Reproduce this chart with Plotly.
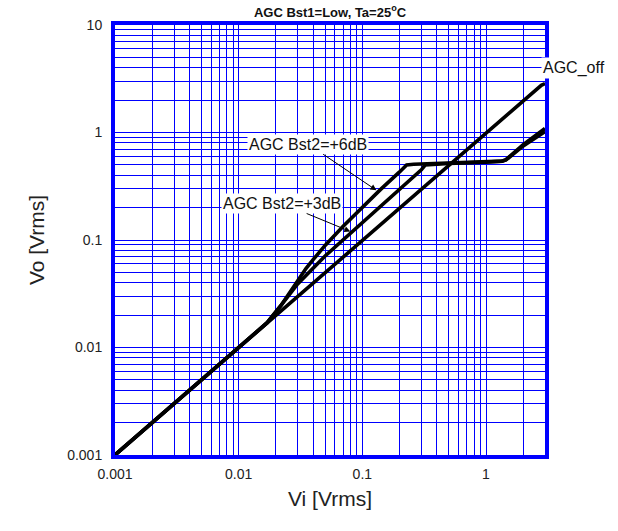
import math
import plotly.graph_objects as go

# ---- data ----
vi_off = [0.001, 2.3, 2.6, 2.8, 3.0]
vo_off = [0.001, 2.3, 2.58, 2.75, 2.85]

vi_6db = [0.001, 0.017, 0.022, 0.028, 0.035, 0.04, 0.05, 0.07, 0.1, 0.14, 0.2, 0.228,
          0.26, 0.5, 1.0, 1.35, 1.45, 1.6, 2.0, 3.0]
vo_6db = [0.001, 0.017, 0.0246, 0.0372, 0.0543, 0.0656, 0.089, 0.134, 0.202, 0.294, 0.43, 0.5,
          0.507, 0.518, 0.532, 0.542, 0.56, 0.62, 0.77, 1.09]

vi_3db = [0.001, 0.017, 0.022, 0.03, 0.05, 0.1, 0.2, 0.3, 0.322,
          0.36, 0.5, 1.0, 1.35, 1.45, 1.6, 2.0, 3.0]
vo_3db = [0.001, 0.017, 0.0246, 0.039, 0.071, 0.145, 0.294, 0.45, 0.498,
          0.504, 0.515, 0.53, 0.54, 0.555, 0.61, 0.75, 1.02]

x_decades = [0.001, 0.01, 0.1, 1]
x_decade_labels = ["0.001", "0.01", "0.1", "1"]
y_decades = [0.001, 0.01, 0.1, 1, 10]
y_decade_labels = ["0.001", "0.01", "0.1", "1", "10"]
x_min, x_max = 0.001, 3.0
y_min, y_max = 0.001, 10.0

# annotation anchor points (data coords, Vi / Vo)
ann_6db_tip = (0.13, 0.29)
ann_3db_tip = (0.08, 0.12)

title_text = "AGC Bst1=Low, Ta=25<sup>o</sup>C"
x_title = "Vi [Vrms]"
y_title = "Vo [Vrms]"


def grid_vals(decades, vmax):
    vals = []
    for d in decades:
        for k in range(1, 10):
            v = round(d * k, 6)
            if v <= vmax + 1e-9:
                vals.append(v)
    return vals


x_grid = grid_vals(x_decades, x_max)
y_grid = grid_vals(y_decades[:-1], y_max) + [y_max]
x_text = [x_decade_labels[x_decades.index(v)] if v in x_decades else "" for v in x_grid]
y_text = [y_decade_labels[y_decades.index(v)] if v in y_decades else "" for v in y_grid]

FONT = "Arial, 'Liberation Sans', sans-serif"
BLUE = "#0000FF"

fig = go.Figure()
line_style = dict(color="black", width=3.6)
fig.add_trace(go.Scatter(x=vi_off, y=vo_off, mode="lines", line=line_style, name="AGC_off"))
fig.add_trace(go.Scatter(x=vi_6db, y=vo_6db, mode="lines", line=line_style, name="AGC Bst2=+6dB"))
fig.add_trace(go.Scatter(x=vi_3db, y=vo_3db, mode="lines", line=line_style, name="AGC Bst2=+3dB"))

axis_common = dict(
    type="log",
    tickmode="array",
    showgrid=True, gridcolor=BLUE, gridwidth=1,
    showline=True, linecolor=BLUE, linewidth=4, mirror=True,
    ticks="", zeroline=False,
    tickfont=dict(family=FONT, size=14, color="#222"),
)

fig.update_xaxes(
    **axis_common,
    range=[math.log10(x_min), math.log10(x_max)],
    tickvals=x_grid, ticktext=x_text,
    ticklabelstandoff=3,
    title=dict(text=x_title, font=dict(family=FONT, size=21, color="#222"), standoff=12),
)
fig.update_yaxes(
    **axis_common,
    range=[math.log10(y_min), math.log10(y_max)],
    tickvals=y_grid, ticktext=y_text,
    ticklabelstandoff=6,
    title=dict(text=y_title, font=dict(family=FONT, size=21, color="#222"), standoff=18),
)

ann_font = dict(family=FONT, size=16, color="#111")
fig.add_annotation(x=math.log10(ann_6db_tip[0]), y=math.log10(ann_6db_tip[1]),
                   xref="x", yref="y", text="AGC Bst2=+6dB",
                   ax=-68, ay=-46,
                   showarrow=True, arrowhead=2, arrowsize=1.2, arrowwidth=1, arrowcolor="black",
                   bgcolor="white", font=ann_font, borderpad=1)
fig.add_annotation(x=math.log10(ann_3db_tip[0]), y=math.log10(ann_3db_tip[1]),
                   xref="x", yref="y", text="AGC Bst2=+3dB",
                   ax=-68, ay=-28,
                   showarrow=True, arrowhead=2, arrowsize=1.2, arrowwidth=1, arrowcolor="black",
                   bgcolor="white", font=ann_font, borderpad=1)
fig.add_annotation(x=0.99, y=0.9, xref="paper", yref="paper", text="AGC_off",
                   xanchor="left", yanchor="middle", showarrow=False,
                   bgcolor="white", font=ann_font, borderpad=1)

fig.update_layout(
    width=618, height=531,
    margin=dict(l=115, r=73, t=25, b=76),
    paper_bgcolor="white", plot_bgcolor="white",
    showlegend=False,
    title=dict(text=title_text, x=(115 + 215) / 618, xanchor="center", y=1 - 12 / 531, yanchor="middle",
               font=dict(family=FONT, size=13, color="#111", weight="bold")),
)

fig.write_html("out.html", config={"displayModeBar": False},
               post_script="document.body.style.margin='0';document.body.style.overflow='hidden';")
